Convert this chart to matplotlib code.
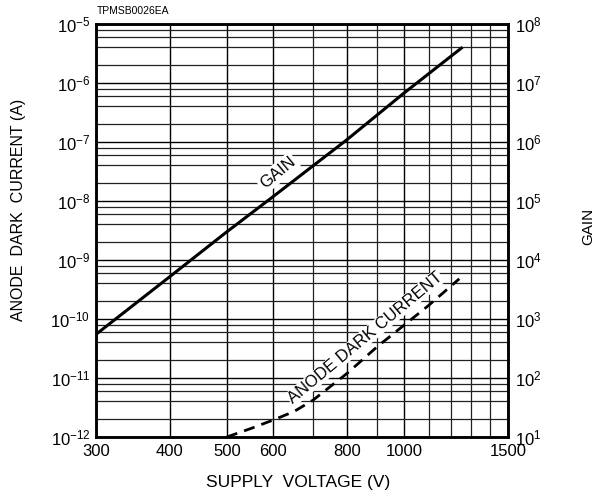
import matplotlib
matplotlib.use('Agg')
import matplotlib.pyplot as plt
from matplotlib.ticker import FixedLocator, NullFormatter, LogLocator

plt.rcParams['font.family'] = ['Liberation Sans', 'DejaVu Sans']
plt.rcParams['mathtext.default'] = 'regular'

# gain curve (right axis)
gain_volts = [300, 400, 500, 600, 800, 1000, 1250]
gain = [5.5e2, 5.2e3, 3.0e4, 1.2e5, 1.1e6, 6.8e6, 3.9e7]

# anode dark current curve (left axis)
dark_volts = [500, 550, 600, 650, 700, 800, 900, 1000, 1100, 1240]
dark_current = [1.0e-12, 1.4e-12, 1.95e-12, 2.7e-12, 4.2e-12, 1.2e-11, 3.4e-11, 7.9e-11, 1.7e-10, 4.8e-10]

x_ticks = [300, 400, 500, 600, 800, 1000, 1500]
x_minor = [700, 900, 1100, 1200, 1300, 1400]
left_exps = list(range(-12, -4))
right_exps = list(range(1, 9))

fig = plt.figure(figsize=(5.99, 4.97), dpi=100)
ax = fig.add_axes([0.1603, 0.1207, 0.6878, 0.831])
ax.set_xscale('log')
ax.set_yscale('log')
ax.set_xlim(300, 1500)
ax.set_ylim(1e-12, 1e-5)

ax.xaxis.set_major_locator(FixedLocator(x_ticks))
ax.xaxis.set_minor_locator(FixedLocator(x_minor))
ax.xaxis.set_minor_formatter(NullFormatter())
ax.set_xticklabels([str(v) for v in x_ticks])

ax.yaxis.set_major_locator(FixedLocator([10.0 ** e for e in left_exps]))
ax.yaxis.set_minor_locator(LogLocator(base=10, subs=[2, 4, 6, 8]))
ax.yaxis.set_minor_formatter(NullFormatter())
ax.set_yticklabels(['$10^{%d}$' % e for e in left_exps])

ax.grid(True, which='major', color='black', lw=1.0)
ax.grid(True, which='minor', color='#222222', lw=0.9)
ax.tick_params(which='both', length=0, labelsize=12, colors='black')
ax.tick_params(axis='x', pad=5)
ax.tick_params(axis='y', pad=4)
for s in ax.spines.values():
    s.set_linewidth(1.8)

ax.plot(dark_volts, dark_current, color='black', lw=2.0, ls=(0, (4, 2.6)))

ax2 = ax.twinx()
ax2.set_yscale('log')
ax2.set_ylim(1e1, 1e8)
ax2.yaxis.set_major_locator(FixedLocator([10.0 ** e for e in right_exps]))
ax2.yaxis.set_minor_locator(FixedLocator([]))
ax2.set_yticklabels(['$10^{%d}$' % e for e in right_exps])
ax2.tick_params(which='both', length=0, labelsize=12, pad=5)
for s in ax2.spines.values():
    s.set_linewidth(1.8)
ax2.plot(gain_volts, gain, color='black', lw=2.2)

ax.text(610, 3.0e-8, 'GAIN', rotation=39.6, ha='center', va='center', fontsize=12,
        bbox=dict(facecolor='white', edgecolor='none', pad=1.5), zorder=5)
ax.text(858, 4.8e-11, 'ANODE DARK CURRENT', rotation=39.8, ha='center', va='center', fontsize=12,
        bbox=dict(facecolor='white', edgecolor='none', pad=0.5), zorder=5)

ax.set_xlabel('SUPPLY  VOLTAGE (V)', fontsize=12.5)
ax.xaxis.set_label_coords(0.49, -0.093)
ax.set_ylabel('ANODE  DARK  CURRENT (A)', fontsize=11.5)
ax.yaxis.set_label_coords(-0.17, 0.55)
ax2.set_ylabel('GAIN', fontsize=11, rotation=90)
ax2.yaxis.set_label_coords(1.178, 0.51)

fig.text(0.162, 0.968, 'TPMSB0026EA', fontsize=7.5, ha='left', va='bottom')

fig.savefig('out.png', dpi=100)
